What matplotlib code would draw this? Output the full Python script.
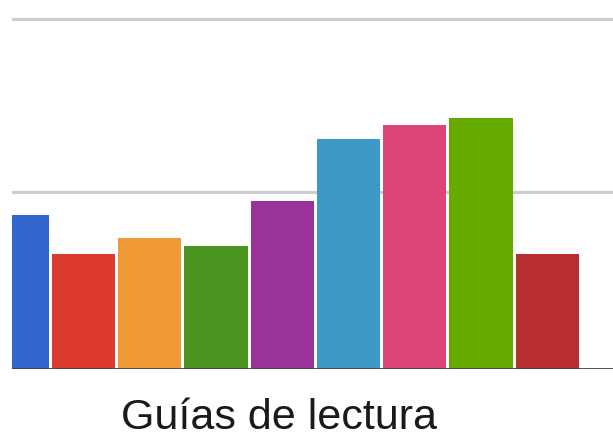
import matplotlib
matplotlib.use("Agg")
import matplotlib.pyplot as plt

categories = ["A", "B", "C", "D", "E", "F", "G", "H", "I"]
values = [154, 115, 131, 123, 168, 230, 244, 251, 115]
colors = ["#3366cc", "#dc3a2e", "#f09a36", "#4a9520", "#993399",
          "#3d99c8", "#dd4477", "#66aa00", "#b82e2e"]
grid_values = [177.5, 350]
xlabel = "Guías de lectura"

fig = plt.figure(figsize=(6.13, 4.38), dpi=100)
ax = fig.add_axes([12/613, 69/438, 1 - 12/613, 369/438])

x = list(range(len(categories)))
ax.bar(x, values, width=0.955, color=colors, linewidth=0, zorder=2)

for g in grid_values:
    ax.axhline(g, color="#cccccc", linewidth=2.2, zorder=1)
ax.axhline(0, color="#444444", linewidth=2, zorder=3)

ax.set_xlim(-0.075, 8.99)
ax.set_ylim(0, 369)
ax.set_xticks([])
ax.set_yticks([])
for s in ax.spines.values():
    s.set_visible(False)

fig.text(279/613, 1 - 418/438, xlabel, ha="center", va="center",
         fontsize=31, family="Liberation Sans", color="#1a1a1a")

fig.savefig("out.png", dpi=100)
